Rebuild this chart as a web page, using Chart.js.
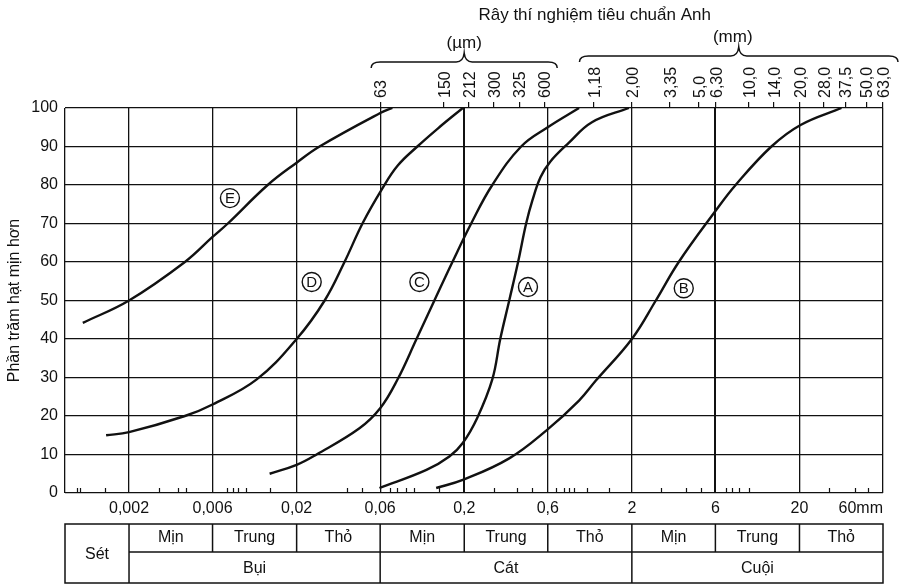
<!DOCTYPE html>
<html><head><meta charset="utf-8">
<script src="https://cdn.jsdelivr.net/npm/chart.js@4.4.1/dist/chart.umd.min.js"></script>
<style>html,body{margin:0;padding:0;background:#fff}canvas{display:block}</style>
</head><body>
<canvas id="c" width="904" height="586"></canvas>
<script>
const FONT = '"Liberation Sans", Arial, Helvetica, sans-serif';
const INK = '#111';

// ---- data (particle size in mm, percent finer) ----
const sizesA = [0.0624, 0.119, 0.163, 0.196, 0.239, 0.294, 0.328, 0.371, 0.419, 0.468, 0.51, 0.57, 0.65, 0.843, 1.156, 1.92];
const pctA   = [1.3, 6, 9.5, 13, 19.5, 29.5, 40, 50, 60, 70, 76, 82, 86, 91, 96.3, 100];
const sizesB = [0.136, 0.196, 0.371, 0.624, 0.968, 1.22, 2.0, 2.78, 3.81, 6.32, 8.32, 13.6, 20.3, 35.6];
const pctB   = [1.3, 3.4, 9, 16.4, 24, 29.2, 40, 50, 60, 73.3, 80, 90, 95.6, 100];
const sizesC = [0.0138, 0.02, 0.0263, 0.0474, 0.063, 0.0798, 0.1038, 0.1327, 0.170, 0.220, 0.294, 0.437, 0.63, 0.968];
const pctC   = [5, 7.3, 10, 16.8, 22, 29.4, 40, 50, 60, 70, 80, 90, 95, 100];
const sizesD = [0.00146, 0.002, 0.00431, 0.0063, 0.01156, 0.02, 0.0294, 0.0386, 0.0494, 0.0647, 0.08, 0.105, 0.142, 0.196];
const pctD   = [15, 15.8, 20, 23, 29.5, 40, 50, 60, 70, 79, 85, 90, 95, 100];
const sizesE = [0.00106, 0.002, 0.00431, 0.0063, 0.00777, 0.01344, 0.02, 0.0274, 0.0631, 0.0745];
const pctE   = [44.2, 50, 60, 66.5, 70, 80, 85.8, 90, 98.7, 100];

const curveNames = ['A', 'B', 'C', 'D', 'E'];
const curveSizes = [sizesA, sizesB, sizesC, sizesD, sizesE];
const curvePcts  = [pctA, pctB, pctC, pctD, pctE];
const tagSize = [0.48, 4.08, 0.108, 0.0246, 0.008];
const tagPct  = [53.5, 53.2, 54.8, 54.8, 76.6];

// ---- axes ----
const xMin = 0.00083, xMax = 63;
const gridSizes  = [0.00083, 0.002, 0.0063, 0.02, 0.063, 0.2, 0.63, 2, 6.3, 20, 63];
const gridLabels = ['', '0,002', '0,006', '0,02', '0,06', '0,2', '0,6', '2', '6', '20', '60mm'];
const sieveSizes  = [0.063, 0.15, 0.212, 0.3, 0.425, 0.6, 1.18, 2.0, 3.35, 5.0, 6.3, 10, 14, 20, 28, 37.5, 50, 63];
const sieveLabels = ['63', '150', '212', '300', '325', '600', '1,18', '2,00', '3,35', '5,0', '6,30', '10,0', '14,0', '20,0', '28,0', '37,5', '50,0', '63,0'];
const minorTicks = [0.00098, 0.00102, 0.00144, 0.003, 0.0039, 0.0044, 0.0077, 0.0083, 0.0089, 0.01, 0.0138,
  0.04, 0.049, 0.072, 0.079, 0.09, 0.1, 0.142, 0.3, 0.41, 0.51, 0.71, 0.79, 0.84, 0.9, 1.08, 1.46,
  3.0, 4.2, 5.2, 7.3, 7.9, 8.7, 10, 30, 43, 51];
const yTicks = [0, 10, 20, 30, 40, 50, 60, 70, 80, 90, 100];

// ---- classification table ----
const clayLabel = 'Sét';
const mainClasses = ['Bụi', 'Cát', 'Cuội'];
const subClasses = ['Mịn', 'Trung', 'Thỏ'];

const sieveTitle = 'Rây thí nghiệm tiêu chuẩn Anh';
const unitMicro = '(µm)';
const unitMilli = '(mm)';
const yTitle = 'Phần trăm hạt mịn hơn';

const datasets = curveNames.map((n, k) => ({
  label: n,
  data: curveSizes[k].map((s, i) => ({x: s, y: curvePcts[k][i]})),
  borderColor: INK, borderWidth: 2.4, pointRadius: 0,
  tension: 0.4, fill: false,
  xAxisID: 'x', yAxisID: 'y'
}));

function brace(ctx, x1, x2, yLine, yPeak) {
  const xm = (x1 + x2) / 2;
  ctx.beginPath();
  ctx.moveTo(x1, yLine + 6);
  ctx.quadraticCurveTo(x1, yLine, x1 + 9, yLine);
  ctx.lineTo(xm - 8, yLine);
  ctx.quadraticCurveTo(xm - 1, yLine, xm, yPeak);
  ctx.quadraticCurveTo(xm + 1, yLine, xm + 8, yLine);
  ctx.lineTo(x2 - 9, yLine);
  ctx.quadraticCurveTo(x2, yLine, x2, yLine + 6);
  ctx.stroke();
}

const decor = {
  id: 'decor',
  afterDraw(chart) {
    const ctx = chart.ctx, xs = chart.scales.x, ys = chart.scales.y, area = chart.chartArea;
    ctx.save();
    ctx.strokeStyle = INK; ctx.fillStyle = INK;
    // minor ticks on bottom edge
    ctx.lineWidth = 1.2;
    minorTicks.forEach(v => {
      const px = Math.round(xs.getPixelForValue(v)) + 0.5;
      ctx.beginPath(); ctx.moveTo(px, area.bottom); ctx.lineTo(px, area.bottom - 5); ctx.stroke();
    });
    // circled curve tags
    ctx.font = '15px ' + FONT; ctx.textAlign = 'center'; ctx.textBaseline = 'middle';
    curveNames.forEach((n, k) => {
      const px = xs.getPixelForValue(tagSize[k]), py = ys.getPixelForValue(tagPct[k]);
      ctx.fillStyle = '#fff';
      ctx.beginPath(); ctx.arc(px, py, 9.5, 0, Math.PI * 2); ctx.fill();
      ctx.lineWidth = 1.4; ctx.stroke();
      ctx.fillStyle = INK; ctx.fillText(n, px, py + 1);
    });
    // braces and sieve titles
    ctx.lineWidth = 1.5;
    const top = area.top;
    brace(ctx, xs.getPixelForValue(0.063) - 9, xs.getPixelForValue(0.6) + 13, top - 46, top - 55);
    brace(ctx, xs.getPixelForValue(1.18) - 14, xs.getPixelForValue(63) + 15, top - 52, top - 61);
    ctx.font = '17px ' + FONT;
    ctx.fillText(unitMicro, xs.getPixelForValue(0.2), top - 65);
    ctx.fillText(unitMilli, xs.getPixelForValue(8), top - 71);
    ctx.fillText(sieveTitle, xs.getPixelForValue(1.2), top - 93);
    // classification table
    const t0 = area.bottom + 31, t1 = area.bottom + 59, t2 = area.bottom + 90;
    const bx = gridSizes.map(v => xs.getPixelForValue(v));
    ctx.lineWidth = 1.5;
    ctx.strokeRect(bx[0], t0, bx[bx.length - 1] - bx[0], t2 - t0);
    ctx.beginPath(); ctx.moveTo(bx[1], t1); ctx.lineTo(bx[bx.length - 1], t1); ctx.stroke();
    for (let i = 1; i < bx.length - 1; i++) {
      ctx.beginPath(); ctx.moveTo(bx[i], t0);
      ctx.lineTo(bx[i], ((i - 1) % 3 === 0) ? t2 : t1); ctx.stroke();
    }
    ctx.font = '16px ' + FONT;
    ctx.fillText(clayLabel, (bx[0] + bx[1]) / 2, (t0 + t2) / 2 + 1);
    for (let g = 0; g < 3; g++) {
      ctx.fillText(mainClasses[g], (bx[1 + g * 3] + bx[4 + g * 3]) / 2, (t1 + t2) / 2 + 1);
      for (let s = 0; s < 3; s++) {
        const i = 1 + g * 3 + s;
        ctx.fillText(subClasses[s], (bx[i] + bx[i + 1]) / 2, (t0 + t1) / 2);
      }
    }
    ctx.restore();
  }
};

new Chart(document.getElementById('c'), {
  type: 'line',
  data: {datasets},
  plugins: [decor],
  options: {
    responsive: false, animation: false, devicePixelRatio: 1,
    layout: {padding: {left: 0, right: 21, top: 0, bottom: 0}},
    plugins: {legend: {display: false}, tooltip: {enabled: false}},
    scales: {
      x: {
        type: 'logarithmic', position: 'bottom', min: xMin, max: xMax,
        afterBuildTicks: s => { s.ticks = gridSizes.map(v => ({value: v})); },
        afterFit: s => { s.height = 93; s.paddingLeft = 0; s.paddingRight = 0; },
        ticks: {
          autoSkip: false, maxRotation: 0, minRotation: 0, align: 'inner', padding: 6,
          color: INK, font: {family: FONT, size: 16},
          callback: (v, i) => gridLabels[i]
        },
        grid: {
          color: INK, drawTicks: false,
          lineWidth: c => (c.tick && (c.tick.value === 0.2 || c.tick.value === 6.3)) ? 2 : 1.3
        },
        border: {display: false}
      },
      x2: {
        type: 'logarithmic', position: 'top', min: xMin, max: xMax,
        afterBuildTicks: s => { s.ticks = sieveSizes.map(v => ({value: v})); },
        afterFit: s => { s.height = 108; s.paddingLeft = 0; s.paddingRight = 0; },
        ticks: {
          autoSkip: false, maxRotation: 90, minRotation: 90, padding: 4, labelOffset: 21,
          color: INK, font: {family: FONT, size: 16},
          callback: (v, i) => sieveLabels[i]
        },
        grid: {drawOnChartArea: false, drawTicks: true, tickLength: 6, color: INK, lineWidth: 1.2},
        border: {display: false}
      },
      y: {
        type: 'linear', min: 0, max: 100,
        afterBuildTicks: s => { s.ticks = yTicks.map(v => ({value: v})); },
        afterFit: s => { s.width = 65; },
        ticks: {padding: 7, color: INK, font: {family: FONT, size: 16}},
        grid: {color: INK, lineWidth: 1.3, drawTicks: false},
        border: {display: false},
        title: {display: true, text: yTitle, color: INK, font: {family: FONT, size: 16}, padding: {top: 5, bottom: 0}}
      }
    }
  }
});
</script>
</body></html>
